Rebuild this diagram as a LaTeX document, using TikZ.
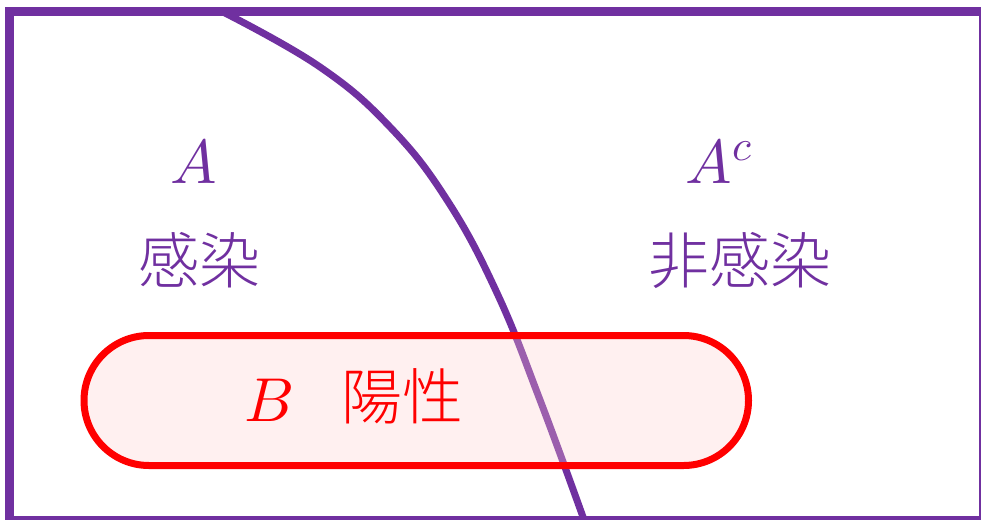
\documentclass[tikz,border=0pt]{standalone}
\usepackage{fontspec}
\usepackage{unicode-math}
\newfontfamily\cjk{Noto Sans CJK JP Light}
\usetikzlibrary{positioning}
\definecolor{setpurple}{RGB}{112,48,160}
\definecolor{posred}{RGB}{255,0,0}
\definecolor{posfill}{RGB}{255,205,205}
\tikzset{
  frm/.style={draw=setpurple, line width=9pt},
  bnd/.style={setpurple, line width=7pt},
  posbox/.style={draw=posred, line width=7pt, fill=posfill, fill opacity=0.3, draw opacity=1,
              rounded corners=65pt},
  mlab/.style={inner sep=0pt, anchor=base, font=\fontsize{62}{66}\selectfont},
  clab/.style={inner sep=0pt, font=\cjk\fontsize{61}{66}\selectfont},
}

\begin{document}
\begin{tikzpicture}[x=1pt, y=-1pt]
    \useasboundingbox (0,0) rectangle (981,519);
    % boundary between infected and not infected
    \draw[bnd] plot[smooth, tension=0.7] coordinates {(225,13) (320,67) (390,127)
      (447,200) (497,293) (540,400) (583,517)};
    % positive test result
    \draw[posbox] (84,335.5) rectangle (748.5,465.5);
    % sample space
    \draw[frm] (9.5,11.5) rectangle (983.5,520.5);
    \node[mlab, text=setpurple] (setA) at (194,183) {$A$};
    \node[clab, text=setpurple] (infA) at (199,260) {感染};
    \node[mlab, text=setpurple] (setAc) at (719,183) {$A^{c}$};
    \node[clab, text=setpurple] (infAc) at (740,260) {非感染};
    \node[mlab, text=posred] (setB) at (269,421) {$B$};
    \node[clab, text=posred] (posB) at (402,396) {陽性};
\end{tikzpicture}
\end{document}
